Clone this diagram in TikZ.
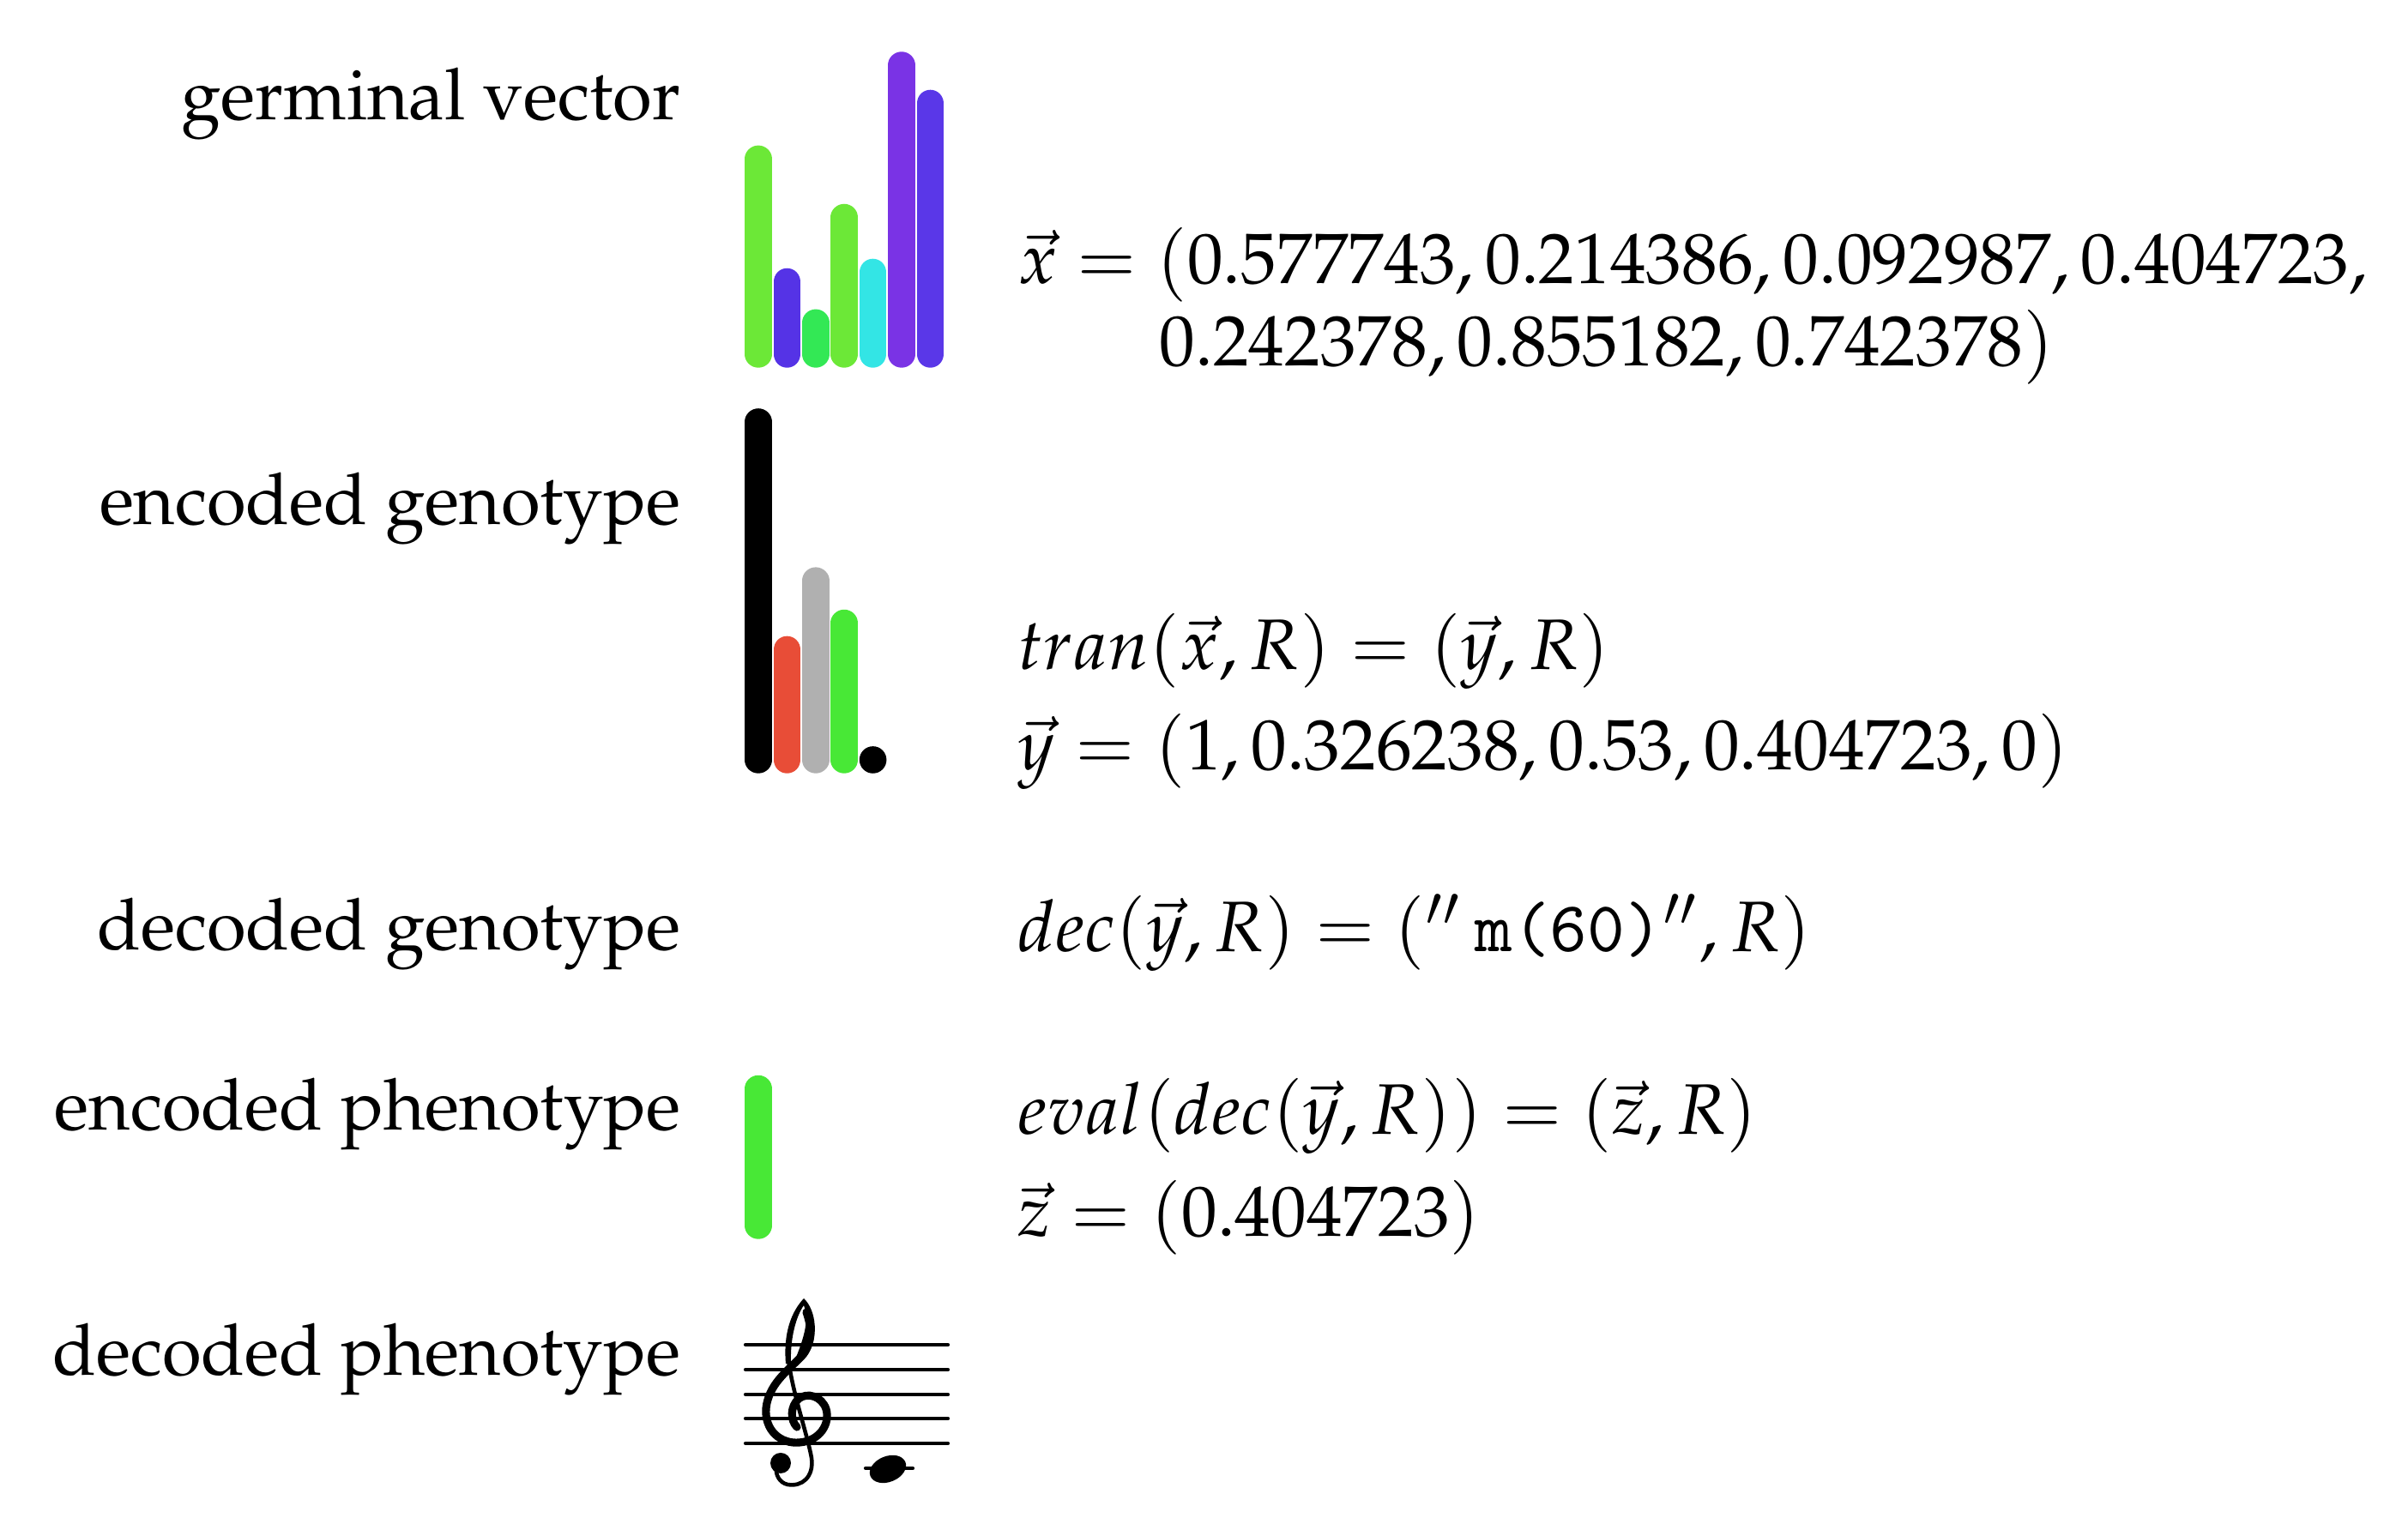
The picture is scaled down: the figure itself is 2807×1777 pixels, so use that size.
\documentclass[tikz,border=0pt]{standalone}
\usepackage[OT1]{fontenc}
\usepackage{mathpazo}
\definecolor{gLight}{RGB}{108,232,55}
\definecolor{gBlue}{RGB}{85,51,230}
\definecolor{gGreen}{RGB}{51,232,85}
\definecolor{gCyan}{RGB}{51,229,229}
\definecolor{gPurple}{RGB}{122,51,229}
\definecolor{gBlueB}{RGB}{90,55,232}
\definecolor{eRed}{RGB}{232,77,55}
\definecolor{eGray}{RGB}{176,176,176}
\definecolor{eGreen}{RGB}{72,232,54}
\newcommand{\mytt}[1]{{\fontencoding{TU}\fontfamily{lmtt}\selectfont #1}}
\tikzset{
  lab/.style={anchor=base east, inner sep=0pt},
  mth/.style={anchor=base west, inner sep=0pt},
  bar/.style={line width=3.78pt, line cap=round},
  staffline/.style={line width=0.5pt, line cap=round},
}
\begin{document}
\begin{tikzpicture}[x=0.12pt,y=-0.12pt]
\useasboundingbox (0,0) rectangle (2807,1777);
% labels
\node[lab] (l1) at (795,140) {germinal vector};
\node[lab] (l2) at (795,612) {encoded genotype};
\node[lab] (l3) at (795,1108) {decoded genotype};
\node[lab] (l4) at (795,1318) {encoded phenotype};
\node[lab] (l5) at (795,1604) {decoded phenotype};
% formulas
\node[mth] (m1) at (1185,331) {$\vec{x} = (0.577743, 0.214386, 0.092987, 0.404723,$};
\node[mth] (m2) at (1350,427) {$0.242378, 0.855182, 0.742378)$};
\node[mth] (m3) at (1185,781) {$tran(\vec{x}, R) = (\vec{y}, R)$};
\node[mth] (m4) at (1185,898) {$\vec{y} = (1, 0.326238, 0.53, 0.404723, 0)$};
\node[mth] (m5) at (1185,1110) {$dec(\vec{y}, R) = (''$\,\mytt{m(60)}$'', R)$};
\node[mth] (m6) at (1185,1323) {$eval(dec(\vec{y}, R)) = (\vec{z}, R)$};
\node[mth] (m7) at (1185,1442) {$\vec{z} = (0.404723)$};
% germinal vector bars
\foreach \v/\c [count=\i] in {0.577743/gLight,0.214386/gBlue,0.092987/gGreen,0.404723/gLight,0.242378/gCyan,0.855182/gPurple,0.742378/gBlueB}
  \draw[bar,\c] ({884+(\i-1)*33.4},413) -- ++(0,{-\v*394});
% encoded genotype bars
\foreach \v/\c [count=\i] in {1/black,0.326238/eRed,0.53/eGray,0.404723/eGreen}
  \draw[bar,\c] ({884+(\i-1)*33.4},886) -- ++(0,{-\v*394});
\fill[black] ({884+4*33.4},886) circle (15.8);
% encoded phenotype bar
\draw[bar,eGreen] (884,1429) -- ++(0,{-0.404723*394});
% staff
\foreach \y in {1568,1597,1626,1654,1683}
  \draw[staffline] (869,\y) -- (1105,\y);
% treble clef
\fill (937,1514) .. controls (952,1528) and (955,1562) .. (940,1582)
  -- (924,1594) .. controls (930,1575) and (946,1545) .. (937,1522)
  .. controls (928,1535) and (921,1560) .. (922,1590)
  -- (916,1590) .. controls (913,1555) and (922,1530) .. (937,1514) -- cycle;
\draw[line width=1.1pt, line cap=round]
  (940,1530) .. controls (947,1550) and (947,1566) .. (934,1582)
  .. controls (916,1600) and (896,1615) .. (893,1642)
  .. controls (891,1668) and (910,1684) .. (932,1682)
  .. controls (956,1680) and (968,1660) .. (963,1643)
  .. controls (958,1628) and (941,1623) .. (931,1631)
  .. controls (921,1640) and (921,1656) .. (929,1664);
\draw[line width=0.55pt, line cap=round]
  (919,1585) .. controls (924,1625) and (941,1672) .. (946,1700)
  .. controls (949,1722) and (935,1734) .. (918,1731)
  .. controls (909,1729) and (904,1720) .. (905,1712);
\fill (910,1706) circle (12);
% note with ledger line
\draw[staffline] (1009,1712) -- (1064,1712);
\fill[rotate around={22:(1035,1713)}] (1035,1713) ellipse [x radius=22, y radius=15];
\end{tikzpicture}
\end{document}
